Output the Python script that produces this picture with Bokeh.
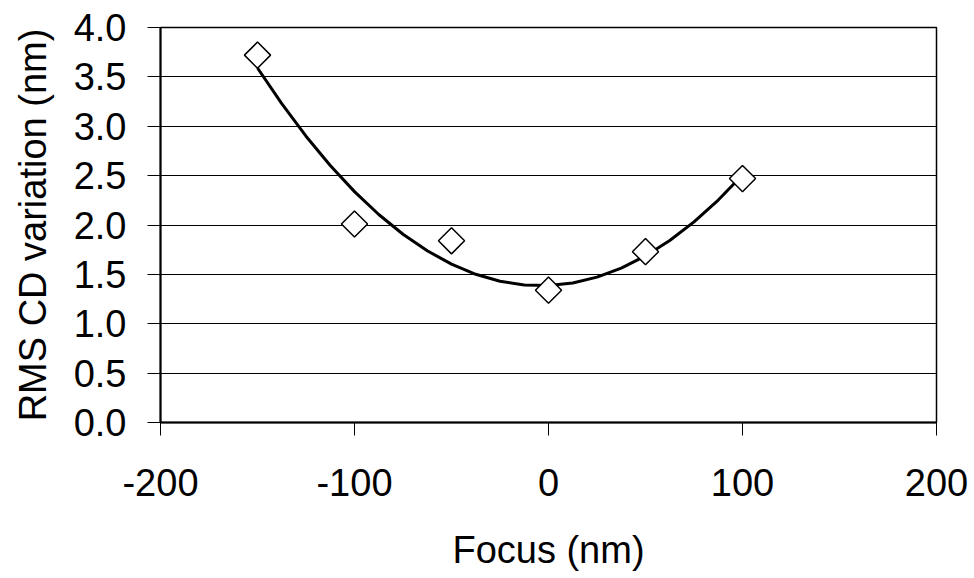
import math
from bokeh.plotting import figure
from bokeh.models import Range1d, FixedTicker, NumeralTickFormatter, ColumnDataSource, CustomJSTickFormatter
from bokeh.embed import file_html
from bokeh.resources import INLINE

# Measured points
focus_nm = [-150, -100, -50, 0, 50, 100]
rms_cd_nm = [3.72, 2.01, 1.84, 1.34, 1.73, 2.47]

# Trend line (polynomial trendline)
trend_x = [-150, -137.5, -125, -112.5, -100, -87.5, -75, -62.5, -50, -37.5, -25,
           -12.5, 0, 12.5, 25, 37.5, 50, 62.5, 75, 87.5, 100]
trend_y = [3.590, 3.229, 2.899, 2.603, 2.338, 2.106, 1.906, 1.739, 1.604, 1.501, 1.430,
           1.392, 1.387, 1.413, 1.472, 1.564, 1.687, 1.843, 2.032, 2.253, 2.506]

x_ticks = [-200, -100, 0, 100, 200]
y_ticks = [0.0, 0.5, 1.0, 1.5, 2.0, 2.5, 3.0, 3.5, 4.0]

FONT = "Liberation Sans"

p = figure(width=974, height=578, output_backend="svg", toolbar_location=None,
           x_range=Range1d(-200, 200), y_range=Range1d(0, 4.0),
           min_border_left=160, min_border_right=38, min_border_top=27, min_border_bottom=156)
p.background_fill_color = "white"
p.border_fill_color = "white"
p.outline_line_color = "black"
p.outline_line_width = 1.5

p.xgrid.visible = False
p.ygrid.ticker = FixedTicker(ticks=y_ticks)
p.ygrid.grid_line_color = "black"
p.ygrid.grid_line_width = 1

p.xaxis.ticker = FixedTicker(ticks=x_ticks)
p.xaxis.formatter = CustomJSTickFormatter(code="return String(tick);")
p.yaxis.ticker = FixedTicker(ticks=y_ticks)
p.yaxis.formatter = NumeralTickFormatter(format="0.0")

for ax in (p.xaxis, p.yaxis):
    ax.axis_line_color = "black"
    ax.axis_line_width = 2
    ax.major_tick_line_color = "black"
    ax.major_tick_line_width = 1
    ax.major_tick_out = 13
    ax.major_tick_in = 0
    ax.minor_tick_line_color = None
    ax.major_label_text_font = FONT
    ax.major_label_text_font_size = "38px"
    ax.major_label_text_color = "black"
    ax.axis_label_text_font = FONT
    ax.axis_label_text_font_size = "38px"
    ax.axis_label_text_font_style = "normal"
    ax.axis_label_text_color = "black"

p.xaxis.axis_label = "Focus (nm)"
p.yaxis.axis_label = "RMS CD variation (nm)"
p.xaxis.major_label_standoff = 33
p.xaxis.axis_label_standoff = 30
p.yaxis.major_label_standoff = 21
p.yaxis.axis_label_standoff = 17

p.line(trend_x, trend_y, line_color="black", line_width=3)

src = ColumnDataSource(data=dict(x=focus_nm, y=rms_cd_nm))
p.scatter("x", "y", source=src, marker="square", size=18.5, angle=math.pi / 4,
          fill_color="white", line_color="black", line_width=1.5)

open("out.html", "w").write(file_html(p, INLINE))
